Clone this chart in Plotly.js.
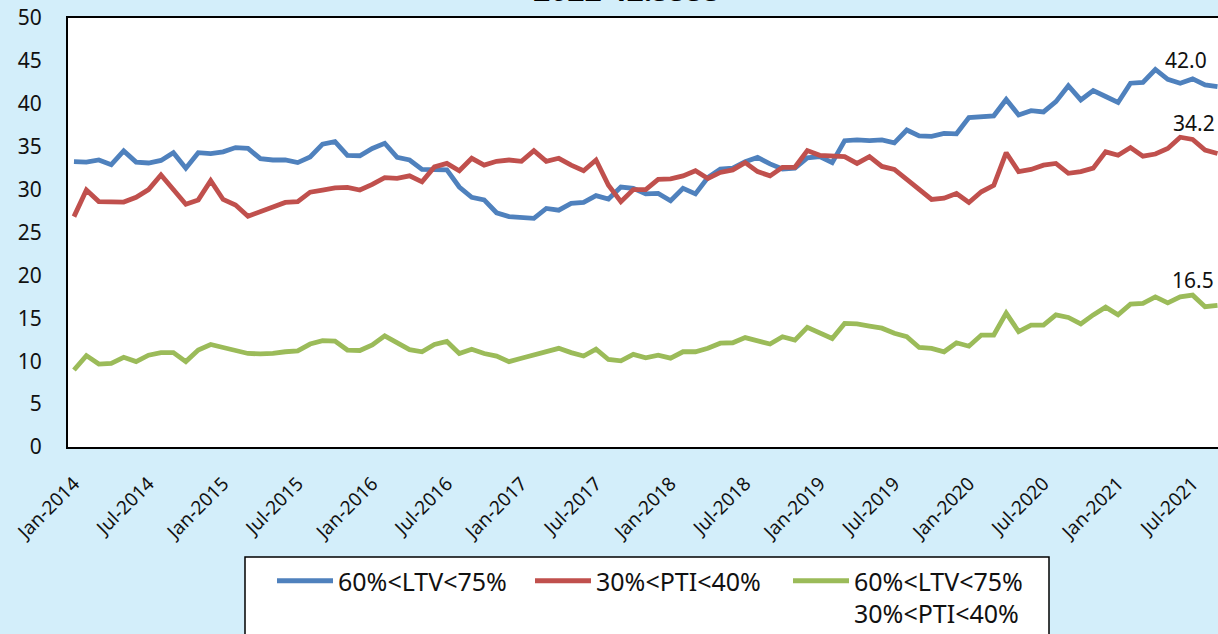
<!DOCTYPE html>
<html>
<head>
<meta charset="utf-8">
<script src="https://cdn.plot.ly/plotly-3.0.1.min.js"></script>
<style>
  html, body { margin: 0; padding: 0; background: #D3EEFA; }
  #chart { width: 1218px; height: 634px; }
</style>
</head>
<body>
<div id="chart"></div>
<script>
// ---- data ----
const monthNames = ["Jan","Feb","Mar","Apr","May","Jun","Jul","Aug","Sep","Oct","Nov","Dec"];
const months = [];
for (let y = 2014; y <= 2021; y++) {
  for (let m = 0; m < 12; m++) {
    if (y === 2021 && m > 8) break;
    months.push(monthNames[m] + "-" + y);
  }
}

const seriesNames = ["60%<LTV<75%", "30%<PTI<40%", "60%<LTV<75%<br>30%<PTI<40%"];

const ltv = [33.25,33.2,33.45,32.9,34.5,33.2,33.1,33.4,34.3,32.5,34.3,34.2,
  34.4,34.9,34.8,33.6,33.45,33.45,33.15,33.8,35.3,35.6,34.0,33.95,
  34.8,35.4,33.75,33.45,32.35,32.35,32.3,30.3,29.1,28.8,27.3,26.85,
  26.8,26.65,27.8,27.6,28.4,28.5,29.3,28.9,30.3,30.15,29.5,29.55,
  28.7,30.15,29.5,31.4,32.4,32.5,33.25,33.75,33.0,32.4,32.5,33.7,
  33.85,33.15,35.7,35.8,35.7,35.8,35.45,36.95,36.25,36.2,36.55,36.5,
  38.4,38.5,38.6,40.5,38.7,39.2,39.05,40.25,42.1,40.45,41.55,40.85,
  40.15,42.4,42.5,44.0,42.85,42.4,42.9,42.2,42.0];

const pti = [26.85,29.95,28.6,28.6,28.55,29.1,30.0,31.7,30.0,28.3,28.8,31.05,
  28.85,28.2,26.9,27.4,27.9,28.5,28.6,29.7,29.95,30.2,30.25,29.95,
  30.6,31.4,31.3,31.6,30.9,32.65,33.05,32.2,33.65,32.85,33.3,33.45,
  33.3,34.55,33.3,33.65,32.85,32.2,33.45,30.5,28.6,30.0,30.0,31.2,
  31.25,31.6,32.2,31.3,32.0,32.3,33.15,32.1,31.6,32.6,32.6,34.55,
  34.0,33.9,33.85,33.05,33.85,32.7,32.35,31.2,30.0,28.85,29.0,29.55,
  28.5,29.75,30.5,34.3,32.1,32.35,32.85,33.05,31.9,32.1,32.5,34.4,
  34.0,34.9,33.9,34.15,34.8,36.1,35.85,34.6,34.2];

const both = [8.97,10.65,9.67,9.75,10.45,9.95,10.7,11.0,11.0,9.95,11.3,11.95,
  11.6,11.3,10.9,10.85,10.9,11.1,11.2,12.0,12.4,12.35,11.3,11.25,
  11.9,12.95,12.1,11.35,11.1,11.95,12.3,10.9,11.4,10.9,10.6,9.95,
  10.35,10.7,11.1,11.5,11.0,10.6,11.4,10.2,10.05,10.8,10.4,10.7,
  10.35,11.1,11.1,11.5,12.1,12.15,12.75,12.4,12.0,12.85,12.45,13.95,
  13.25,12.65,14.4,14.35,14.1,13.85,13.25,12.85,11.6,11.5,11.1,12.15,
  11.75,13.05,13.05,15.6,13.45,14.2,14.2,15.4,15.1,14.35,15.4,16.3,
  15.4,16.65,16.75,17.5,16.8,17.5,17.7,16.35,16.5];

const tickLabels = ["Jan-2014","Jul-2014","Jan-2015","Jul-2015","Jan-2016","Jul-2016",
  "Jan-2017","Jul-2017","Jan-2018","Jul-2018","Jan-2019","Jul-2019",
  "Jan-2020","Jul-2020","Jan-2021","Jul-2021"];
const yTicks = [0,5,10,15,20,25,30,35,40,45,50];

const titleText = "2022 42.5555";

// ---- chart ----
const colors = ["#4F81BD", "#C0504D", "#9BBB59"];
const allSeries = [ltv, pti, both];
const FONT = "Noto Sans, Open Sans, sans-serif";

const traces = allSeries.map((vals, i) => ({
  type: "scatter",
  mode: "lines",
  x: months,
  y: vals,
  name: seriesNames[i],
  line: { color: colors[i], width: 4.8 },
  hoverinfo: "skip"
}));

const last = months[months.length - 1];
const labelShift = [[-32, 11], [-24, 15], [-25, 9]];
const annotations = allSeries.map((vals, i) => ({
  xref: "x", yref: "y",
  x: last, y: vals[vals.length - 1],
  text: vals[vals.length - 1].toFixed(1),
  showarrow: false,
  xshift: labelShift[i][0], yshift: labelShift[i][1],
  yanchor: "bottom",
  font: { family: FONT, size: 21, color: "#111111" }
}));
annotations.push({
  xref: "paper", yref: "paper", x: 0.4857, y: 1,
  xanchor: "center", yanchor: "bottom", yshift: 6,
  text: "<b>" + titleText + "</b>", showarrow: false,
  font: { family: FONT, size: 30, color: "#000000" }
});

// plot area geometry in pixels (used only to place the legend frame)
const PL = 68, PW = 1150, PB = 447, PH = 429;
const px = v => (v - PL) / PW;
const py = v => (PB - v) / PH;

const layout = {
  width: 1218, height: 634,
  paper_bgcolor: "#D3EEFA",
  plot_bgcolor: "#FFFFFF",
  margin: { l: 68, r: 0, t: 18, b: 187, autoexpand: false },
  font: { family: FONT, color: "#222222" },
  showlegend: true,
  xaxis: {
    type: "category",
    range: [-0.48, 92.04],
    tickmode: "array",
    tickvals: tickLabels,
    ticktext: tickLabels,
    tickangle: -45,
    ticks: "outside", ticklen: 16, tickcolor: "rgba(0,0,0,0)",
    tickfont: { family: FONT, size: 19, color: "#111111" },
    showgrid: false, zeroline: false,
    showline: true, linecolor: "#000000", linewidth: 2, mirror: true,
    fixedrange: true
  },
  yaxis: {
    range: [0, 50],
    tickmode: "array",
    tickvals: yTicks,
    ticks: "outside", ticklen: 20, tickcolor: "rgba(0,0,0,0)",
    tickfont: { family: FONT, size: 21, color: "#111111" },
    showgrid: false, zeroline: false,
    showline: true, linecolor: "#000000", linewidth: 2,
    fixedrange: true
  },
  shapes: [{
    type: "rect", xref: "paper", yref: "paper",
    x0: px(245), x1: px(1049), y0: py(645), y1: py(557),
    fillcolor: "#FFFFFF", line: { color: "#000000", width: 1.5 },
    layer: "above"
  }],
  legend: {
    orientation: "h",
    x: px(272), xanchor: "left",
    y: py(558), yanchor: "top",
    bgcolor: "rgba(0,0,0,0)", borderwidth: 0,
    font: { family: FONT, size: 25, color: "#111111" },
    itemwidth: 56,
    entrywidth: 187, entrywidthmode: "pixels",
    valign: "top",
    traceorder: "normal"
  },
  annotations: annotations
};

Plotly.newPlot("chart", traces, layout, { staticPlot: true, displayModeBar: false });
</script>
</body>
</html>
